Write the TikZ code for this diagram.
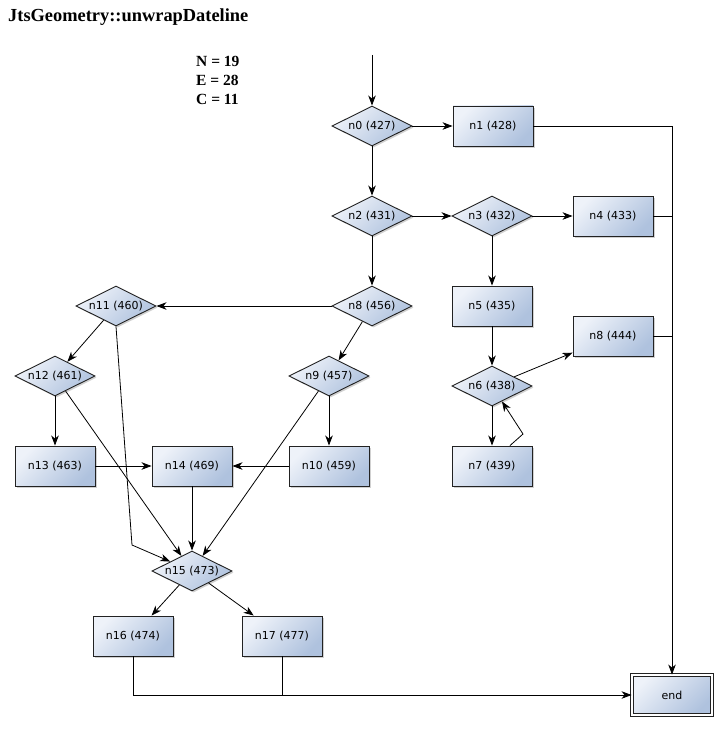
\documentclass[tikz,border=0pt]{standalone}
\usepackage{fontspec}
\setmainfont{Liberation Serif}
\newfontfamily\nodefont{DejaVu Sans}
\usetikzlibrary{shapes.geometric,arrows.meta,shadows}

\definecolor{fillhi}{HTML}{EEF2F9}
\definecolor{filllo}{HTML}{AFC2DE}
\definecolor{edgegray}{HTML}{222222}

\tikzset{
  base/.style={draw=edgegray, line width=0.9pt, inner sep=0pt,
    top color=fillhi, bottom color=filllo, shading angle=45,
    font=\nodefont\fontsize{11}{13}\selectfont,
    drop shadow={shadow xshift=1.6pt, shadow yshift=-1.6pt, opacity=0.3, fill=black!60}},
  stepbox/.style={base, rectangle, minimum width=80pt, minimum height=40pt},
  choice/.style={base, diamond, aspect=2, minimum width=80pt, minimum height=40pt},
  endbox/.style={stepbox, double=white, double distance=1.6pt},
  flow/.style={line width=0.8pt, -{Stealth[length=10pt,width=7.5pt,inset=3pt]}},
  link/.style={line width=0.8pt},
  label/.style={anchor=base west, inner sep=0pt, font=\bfseries\fontsize{15.5}{18}\selectfont}
}

\begin{document}
\begin{tikzpicture}[x=1pt, y=-1pt]
  \useasboundingbox (0,0) rectangle (727,730);

  % heading and graph counts
  \node[anchor=base west, inner sep=0pt, font=\bfseries\fontsize{18.4}{22}\selectfont] (title) at (8,22) {JtsGeometry::unwrapDateline};
  \node[label] (cN) at (196,67) {N = 19};
  \node[label] (cE) at (196,86) {E = 28};
  \node[label] (cC) at (196,105) {C = 11};

  % nodes
  \node[choice]  (n0)  at (372,126) {n0 (427)};
  \node[stepbox] (n1)  at (493,126) {n1 (428)};
  \node[choice]  (n2)  at (372,216) {n2 (431)};
  \node[choice]  (n3)  at (492,216) {n3 (432)};
  \node[stepbox] (n4)  at (613,216) {n4 (433)};
  \node[choice]  (n8)  at (372,306) {n8 (456)};
  \node[stepbox] (n5)  at (492,306) {n5 (435)};
  \node[stepbox] (n8b) at (613,336) {n8 (444)};
  \node[choice]  (n6)  at (492,386) {n6 (438)};
  \node[stepbox] (n7)  at (492,466) {n7 (439)};
  \node[choice]  (n11) at (116,306) {n11 (460)};
  \node[choice]  (n12) at (55,376)  {n12 (461)};
  \node[choice]  (n9)  at (329,376) {n9 (457)};
  \node[stepbox] (n13) at (55,466)  {n13 (463)};
  \node[stepbox] (n14) at (192,466) {n14 (469)};
  \node[stepbox] (n10) at (329,466) {n10 (459)};
  \node[choice]  (n15) at (192,571) {n15 (473)};
  \node[stepbox] (n16) at (133,636) {n16 (474)};
  \node[stepbox] (n17) at (282,636) {n17 (477)};
  \node[endbox]  (end) at (672,695) {end};

  % helper points
  \coordinate (start) at (372,55);
  \coordinate (k7)  at (523,434);
  \coordinate (k11) at (132,545);

  % connectors
  \draw[flow] (start) -- (n0);
  \draw[flow] (n0) -- (n1);
  \draw[flow] (n0) -- (n2);
  \draw[flow] (n1.east) -| (end.north);
  \draw[flow] (n2) -- (n3);
  \draw[flow] (n2) -- (n8);
  \draw[flow] (n3) -- (n4);
  \draw[flow] (n3) -- (n5);
  \draw[link] (n4.east) -- (n4.east -| end.north);
  \draw[link] (n8b.east) -- (n8b.east -| end.north);
  \draw[flow] (n5) -- (n6);
  \draw[flow] (n6) -- (n8b);
  \draw[flow] (n6) -- (n7);
  \draw[flow] ([xshift=18pt]n7.north) -- (k7) -- (n6);
  \draw[flow] (n8) -- (n11);
  \draw[flow] (n8) -- (n9);
  \draw[flow] (n11) -- (n12);
  \draw[flow] (n11.south) -- (k11) -- (n15);
  \draw[flow] (n12) -- (n13);
  \draw[flow] (n12) -- (n15);
  \draw[flow] (n13) -- (n14);
  \draw[flow] (n10) -- (n14);
  \draw[flow] (n9) -- (n10);
  \draw[flow] (n9) -- (n15);
  \draw[flow] (n14) -- (n15);
  \draw[flow] (n15) -- (n16);
  \draw[flow] (n15) -- (n17);
  \draw[flow] (n16.south) |- (end.west);
  \draw[link] (n17.south) -- (n17.south |- end.west);
\end{tikzpicture}
\end{document}
